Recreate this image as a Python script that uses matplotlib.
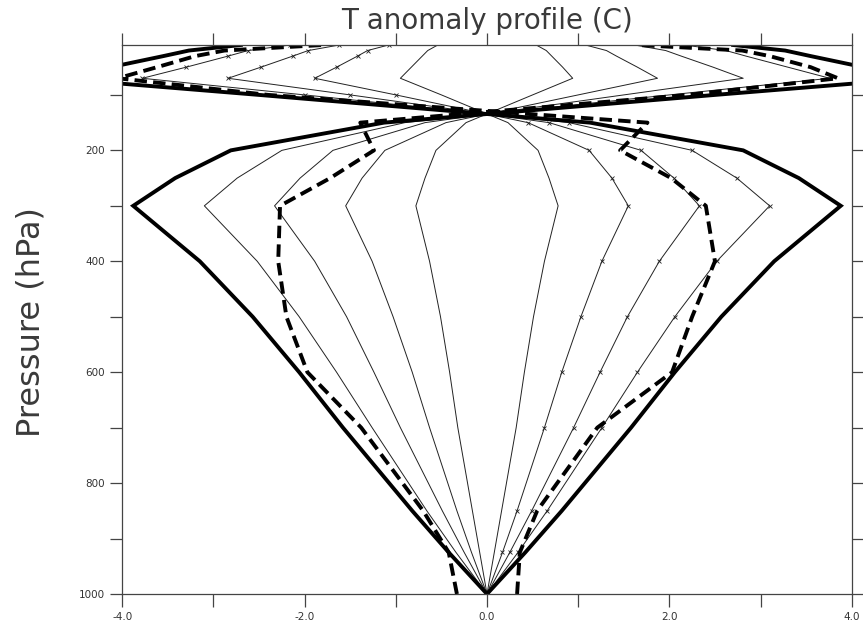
import matplotlib

matplotlib.use("Agg")
import matplotlib.pyplot as plt
from matplotlib.ticker import MultipleLocator


# pressure levels (hPa), bottom to top
LEVELS = [1000, 925, 850, 700, 600, 500, 400, 300, 250, 200, 150, 100, 70, 50, 30, 20, 10]

# warm below / cold above (right side at low levels)
WARM_20 = [0, 0.08, 0.16, 0.32, 0.41, 0.51, 0.63, 0.78, 0.68, 0.56, 0.23, -0.50, -0.95, -0.83, -0.71, -0.65, -0.54]
WARM_40 = [0, 0.17, 0.33, 0.63, 0.82, 1.03, 1.26, 1.55, 1.37, 1.12, 0.45, -1.00, -1.89, -1.65, -1.42, -1.31, -1.08]
WARM_60 = [0, 0.25, 0.49, 0.95, 1.24, 1.54, 1.89, 2.33, 2.05, 1.69, 0.68, -1.50, -2.84, -2.48, -2.13, -1.96, -1.62]
WARM_80 = [0, 0.34, 0.66, 1.26, 1.65, 2.06, 2.52, 3.10, 2.74, 2.25, 0.90, -2.00, -3.78, -3.30, -2.84, -2.62, -2.16]
WARM_100 = [0, 0.42, 0.82, 1.58, 2.06, 2.57, 3.15, 3.88, 3.42, 2.81, 1.13, -2.50, -4.73, -4.13, -3.55, -3.27, -2.70]

# cold below / warm above (left side at low levels)
COLD_20 = [0, -0.08, -0.16, -0.32, -0.41, -0.51, -0.63, -0.78, -0.68, -0.56, -0.23, 0.50, 0.94, 0.83, 0.71, 0.65, 0.54]
COLD_40 = [0, -0.17, -0.33, -0.63, -0.82, -1.03, -1.26, -1.55, -1.37, -1.12, -0.45, 1.00, 1.87, 1.65, 1.42, 1.31, 1.08]
COLD_60 = [0, -0.25, -0.49, -0.95, -1.24, -1.54, -1.89, -2.33, -2.05, -1.69, -0.68, 1.50, 2.81, 2.48, 2.13, 1.96, 1.62]
COLD_80 = [0, -0.34, -0.66, -1.26, -1.65, -2.06, -2.52, -3.10, -2.74, -2.25, -0.90, 2.00, 3.76, 3.30, 2.84, 2.62, 2.16]
COLD_100 = [0, -0.42, -0.82, -1.58, -2.06, -2.57, -3.15, -3.88, -3.42, -2.81, -1.13, 2.50, 4.73, 4.13, 3.55, 3.27, 2.70]

# the two thick dashed profiles
DASHED_COLD = [-0.33, -0.42, -0.70, -1.38, -1.97, -2.20, -2.29, -2.27, -1.72, -1.24, -1.39, 2.20, 3.85, 3.55, 3.10, 2.80, 1.65]
DASHED_WARM = [0.33, 0.36, 0.55, 1.21, 2.03, 2.25, 2.50, 2.40, 2.02, 1.46, 1.76, -2.40, -4.05, -3.62, -3.20, -2.88, -1.80]

INK = "#222222"


def draw_profiles(ax):
    thin = dict(color=INK, lw=0.7)
    for values in (COLD_20, COLD_40, COLD_60, COLD_80, WARM_20):
        ax.plot(values, LEVELS, **thin)
    for values in (WARM_40, WARM_60, WARM_80):
        ax.plot(values, LEVELS, marker="x", ms=3.5, mew=0.6, **thin)

    for values in (WARM_100, COLD_100):
        ax.plot(values, LEVELS, color="black", lw=2.8, solid_joinstyle="miter")
    for values in (DASHED_WARM, DASHED_COLD):
        ax.plot(values, LEVELS, color="black", lw=2.8, dashes=(3.2, 1.6))


def style_axes(ax):
    ax.set_xlim(-4, 4)
    ax.set_ylim(1000, 10)
    ax.xaxis.set_major_locator(MultipleLocator(2))
    ax.xaxis.set_minor_locator(MultipleLocator(1))
    ax.yaxis.set_major_locator(MultipleLocator(200))
    ax.yaxis.set_minor_locator(MultipleLocator(100))
    ax.set_yticks([200, 400, 600, 800, 1000])
    ax.xaxis.set_major_formatter(lambda v, pos: f"{v:.1f}")

    ax.tick_params(which="both", direction="out", length=9, width=0.9, color="#444444",
                   top=True, right=True, labelsize=7.5, labelcolor="#333333")
    ax.tick_params(axis="x", pad=4)
    for spine in ax.spines.values():
        spine.set_color("#444444")
        spine.set_linewidth(0.9)


def main():
    fig = plt.figure(figsize=(8.63, 6.27), dpi=100)
    ax = fig.add_axes([122.3 / 863, 1 - 594 / 627, (851.7 - 122.3) / 863, (594 - 45) / 627])
    draw_profiles(ax)
    style_axes(ax)

    fig.text(487 / 863, 1 - 21 / 627, "T anomaly profile (C)", ha="center", va="center",
             fontsize=20, color="#3a3a3a")
    fig.text(31 / 863, 1 - 322 / 627, "Pressure (hPa)", ha="center", va="center",
             rotation=90, fontsize=23, color="#3a3a3a")

    fig.savefig("out.png", dpi=100)
    plt.close(fig)


if __name__ == "__main__":
    main()
